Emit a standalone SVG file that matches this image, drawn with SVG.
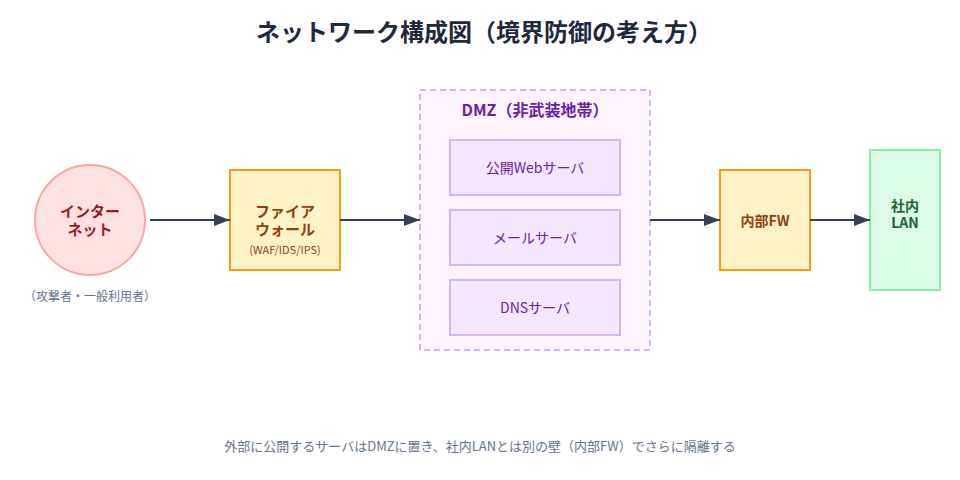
<svg xmlns="http://www.w3.org/2000/svg" width="960" height="480" viewBox="0 0 960 480">
<style>
text{font-family:"Noto Sans CJK JP","Noto Sans",sans-serif;text-anchor:middle;dominant-baseline:central}
.title{font-size:24px;font-weight:700;fill:#1e293b}
.red{font-size:15px;font-weight:700;fill:#991b1b}
.fw{font-size:15px;font-weight:700;fill:#92400e}
.fws{font-size:11px;fill:#92400e}
.dmzt{font-size:16px;font-weight:700;fill:#6b21a8}
.srv{fill:#f3e8ff;stroke:#d8b4fe;stroke-width:2}
.srvt{font-size:14px;fill:#6b21a8}
.lan{font-size:14px;font-weight:700;fill:#166534}
.note{font-size:12px;fill:#64748b}
.cap{font-size:13px;fill:#64748b}
.conn{stroke:#334155;stroke-width:2;fill:none;marker-end:url(#arr)}
</style>
<defs>
<marker id="arr" viewBox="0 0 16 12" refX="16" refY="6" markerWidth="16" markerHeight="12" markerUnits="userSpaceOnUse" orient="auto">
<path d="M0,0 L16,6 L0,12 Z" fill="#334155"/>
</marker>
</defs>
<rect width="960" height="480" fill="#ffffff"/>
<text class="title" x="484" y="30">ネットワーク構成図（境界防御の考え方）</text>

<g id="dmz">
<rect x="420" y="90" width="230" height="260" fill="#fdf4ff" stroke="#d8b4fe" stroke-width="2" stroke-dasharray="6,4"/>
<text class="dmzt" x="535" y="109">DMZ（非武装地帯）</text>
</g>
<g id="web">
<rect class="srv" x="450" y="140" width="170" height="55"/>
<text class="srvt" x="535" y="167">公開Webサーバ</text>
</g>
<g id="mail">
<rect class="srv" x="450" y="210" width="170" height="55"/>
<text class="srvt" x="535" y="237">メールサーバ</text>
</g>
<g id="dns">
<rect class="srv" x="450" y="280" width="170" height="55"/>
<text class="srvt" x="535" y="307">DNSサーバ</text>
</g>

<g id="internet">
<circle cx="90" cy="220" r="55" fill="#fee2e2" stroke="#fca5a5" stroke-width="2"/>
<text class="red"><tspan x="90" y="210">インター</tspan><tspan x="90" y="228">ネット</tspan></text>
<text class="note" x="90" y="295">（攻撃者・一般利用者）</text>
</g>

<g id="firewall">
<rect x="230" y="170" width="110" height="100" fill="#fef3c7" stroke="#f59e0b" stroke-width="2"/>
<text class="fw"><tspan x="285" y="210">ファイア</tspan><tspan x="285" y="228">ウォール</tspan></text>
<text class="fws" x="285" y="249">(WAF/IDS/IPS)</text>
</g>

<g id="internal-fw">
<rect x="720" y="170" width="90" height="100" fill="#fef3c7" stroke="#f59e0b" stroke-width="2"/>
<text class="fw" x="765" y="220" style="font-size:14px">内部FW</text>
</g>

<g id="lan">
<rect x="870" y="150" width="70" height="140" fill="#dcfce7" stroke="#86efac" stroke-width="2"/>
<text class="lan"><tspan x="905" y="205">社内</tspan><tspan x="905" y="222">LAN</tspan></text>
</g>

<g id="connectors">
<line class="conn" x1="150" y1="220" x2="230" y2="220"/>
<line class="conn" x1="340" y1="220" x2="420" y2="220"/>
<line class="conn" x1="650" y1="220" x2="720" y2="220"/>
<line class="conn" x1="810" y1="220" x2="870" y2="220"/>
</g>

<text class="cap" x="480" y="445">外部に公開するサーバはDMZに置き、社内LANとは別の壁（内部FW）でさらに隔離する</text>
</svg>
